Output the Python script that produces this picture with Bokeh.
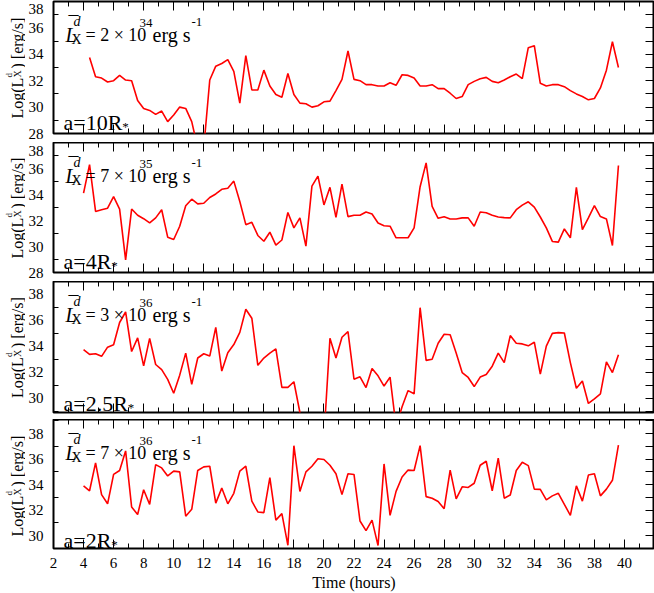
import math
from bokeh.plotting import figure
from bokeh.models import Range1d, LinearAxis, FixedTicker, Label, CustomJSTickFormatter
from bokeh.layouts import column, row
from bokeh.embed import file_html
from bokeh.resources import INLINE

FONT = "Liberation Serif"

# sampling grid (hours): 4.0, 4.4, ..., 39.6
time_h = [round(4 + 0.4 * i, 1) for i in range(90)]

lum_a10 = [float("nan"),
    33.75, 32.3, 32.2, 31.9, 32.0, 32.4, 32.05, 32.0, 30.5, 29.9,
    29.75, 29.45, 29.7, 28.9, 29.4, 30.0, 29.9, 28.9, 26.9, 26.9,
    32.05, 33.1, 33.3, 33.6, 32.7, 30.3, 33.9, 31.3, 31.3, 32.8,
    31.6, 30.95, 30.75, 32.55, 30.95, 30.3, 30.25, 30.0, 30.1, 30.4,
    30.45, 31.25, 32.1, 34.25, 32.1, 32.0, 31.7, 31.7, 31.6, 31.6,
    31.85, 31.65, 32.45, 32.4, 32.2, 31.6, 31.6, 31.7, 31.4, 31.4,
    31.05, 30.65, 30.8, 31.7, 31.95, 32.15, 32.25, 31.95, 31.85, 32.05,
    32.3, 32.5, 32.15, 34.5, 34.65, 31.8, 31.6, 31.7, 31.7, 31.55,
    31.25, 31.0, 30.8, 30.55, 30.65, 31.45, 32.8, 34.95, 33.0]

lum_a4 = [
    34.1, 36.3, 32.7, 32.83, 32.95, 33.84, 32.88, 28.97, 32.88, 32.4,
    32.14, 31.81, 32.2, 32.83, 30.72, 30.54, 31.56, 33.13, 33.64, 33.28,
    33.33, 33.77, 34.04, 34.4, 34.48, 35.03, 33.46, 31.68, 31.86, 30.85,
    30.4, 31.1, 30.11, 30.5, 32.62, 31.43, 32.2, 30.03, 34.65, 35.41,
    33.2, 34.55, 32.24, 34.8, 32.3, 32.4, 32.4, 32.65, 32.5, 31.81,
    31.6, 31.56, 30.67, 30.67, 30.67, 31.43, 34.6, 36.43, 33.08, 32.17,
    32.29, 32.12, 32.12, 32.2, 32.2, 31.56, 32.65, 32.6, 32.4, 32.27,
    32.22, 32.2, 32.83, 33.18, 33.44, 33.03, 32.27, 31.43, 30.39, 30.34,
    31.35, 30.67, 34.55, 31.3, 32.2, 33.15, 32.3, 32.12, 30.08, 36.23]

lum_a25 = [
    33.74, 33.38, 33.43, 33.23, 33.94, 34.12, 35.84, 36.65, 33.6, 34.65,
    32.5, 34.62, 32.6, 32.2, 31.45, 30.38, 31.78, 33.48, 31.07, 33.1,
    33.43, 33.25, 35.46, 32.09, 33.5, 34.14, 35.08, 36.86, 36.17, 32.54,
    33.1, 33.48, 33.81, 30.84, 30.84, 31.27, 28.9, 27.5, 27.5, 27.5,
    27.0, 34.62, 33.1, 34.7, 35.13, 31.47, 31.65, 30.82, 32.29, 31.73,
    30.94, 31.63, 27.8, 29.35, 30.59, 30.34, 36.98, 32.92, 33.0, 34.24,
    34.93, 34.9, 33.48, 31.98, 31.6, 30.9, 31.63, 31.83, 32.47, 33.48,
    32.75, 34.83, 34.24, 34.19, 34.04, 34.32, 31.86, 34.02, 35.0, 35.06,
    35.03, 32.75, 30.77, 31.33, 29.6, 29.95, 30.34, 32.8, 31.98, 33.36]

lum_a2 = [
    33.91, 33.52, 35.7, 33.22, 32.5, 34.8, 35.11, 36.64, 32.25, 31.66,
    33.6, 32.45, 35.57, 35.31, 34.68, 35.06, 35.0, 31.53, 32.07, 35.11,
    35.39, 35.44, 32.55, 33.73, 32.5, 33.32, 35.06, 35.44, 32.71, 31.86,
    31.81, 34.55, 31.22, 31.73, 29.25, 37.05, 33.47, 35.0, 35.44, 36.03,
    35.97, 35.52, 34.85, 33.22, 34.85, 34.8, 31.15, 30.4, 31.22, 29.23,
    35.62, 31.6, 33.47, 34.6, 35.14, 35.11, 37.05, 33.06, 32.94, 32.68,
    32.12, 35.14, 32.88, 33.83, 33.78, 34.11, 35.52, 35.83, 33.52, 36.08,
    32.94, 33.19, 35.11, 35.75, 35.49, 33.65, 33.63, 32.81, 33.12, 33.32,
    32.45, 31.6, 33.91, 32.71, 34.75, 34.85, 33.12, 33.65, 34.34, 37.1]

series = [lum_a10, lum_a4, lum_a25, lum_a2]
y_ranges = [(28, 38), (28, 38), (28.9, 39.0), (29.0, 39.1)]
y_major = [[28, 30, 32, 34, 36, 38], [28, 30, 32, 34, 36, 38],
           [30, 32, 34, 36, 38], [30, 32, 34, 36, 38]]
y_minor = [[29, 31, 33, 35, 37], [29, 31, 33, 35, 37],
           [29, 31, 33, 35, 37, 39], [31, 33, 35, 37, 39]]
coeffs = ["2", "7", "3", "7"]
exponents = ["34", "35", "36", "36"]
sep_labels = ["a=10R", "a=4R", "a=2.5R", "a=2R"]
sep_raise = [11, 11.5, 9, 8.5]
x_major = list(range(2, 41, 2))
x_minor = list(range(3, 42, 2))
x_title = "Time (hours)"

# layout (px): border above frame, frame height, border below frame
borders_top = [1, 0, 0, 0]
frame_h = [132, 130, 131, 132]
borders_bottom = [9, 9, 7, 42]
TOTAL_H = sum(borders_top) + sum(frame_h) + sum(borders_bottom)
TITLE_W = 25
PANEL_W = 654 - TITLE_W
TOP_LABEL_DROP = 8   # px: a label sitting at the very top edge is drawn this far below it

# Liberation Serif advance widths (em) for label positioning
ADV = {"a": .444, "=": .564, "1": .5, "0": .5, ".": .25, "2": .5, "4": .5, "5": .5, "R": .667}

x_range = Range1d(2, 42)

def hide_axis(ax):
    ax.formatter = CustomJSTickFormatter(code="return ''")
    ax.major_label_text_font_size = "0px"
    ax.major_label_standoff = 0
    ax.major_tick_out = 0
    ax.minor_tick_out = 0
    ax.axis_line_color = None
    ax.major_tick_line_color = "black"
    ax.minor_tick_line_color = "black"

def lab(p, text, x, y, dx, dy, size, style="normal", angle=0.0,
        align="left", baseline="alphabetic"):
    p.add_layout(Label(x=x, y=y, x_offset=dx, y_offset=dy, text=text,
                       text_font=FONT, text_font_size=f"{size}px",
                       text_font_style=style, text_color="black",
                       text_align=align, text_baseline=baseline,
                       angle=angle))

# narrow figure holding the rotated y titles (pixel coordinates, y downward)
tf = figure(width=TITLE_W, height=TOTAL_H, x_range=Range1d(0, TITLE_W),
            y_range=Range1d(TOTAL_H, 0), output_backend="svg",
            toolbar_location=None, x_axis_location=None, y_axis_location=None,
            min_border=0)
tf.xgrid.visible = False
tf.ygrid.visible = False
tf.outline_line_color = None
tf.background_fill_color = "white"
tf.border_fill_color = "white"

panels = []
y_cursor = 0
for k in range(4):
    last = (k == 3)
    top = borders_top[k]
    bottom = borders_bottom[k]
    y0, y1 = y_ranges[k]
    p = figure(width=PANEL_W, height=frame_h[k] + top + bottom, x_range=x_range,
               y_range=Range1d(y0, y1), output_backend="svg",
               toolbar_location=None, min_border_left=25, min_border_right=0,
               min_border_top=top, min_border_bottom=bottom)
    p.xgrid.visible = False
    p.ygrid.visible = False
    p.outline_line_color = "black"
    p.outline_line_width = 2
    p.background_fill_color = "white"
    p.border_fill_color = "white"

    p.line(time_h, series[k], line_color="#ff0000", line_width=1.6)

    # bottom axis
    xb = p.xaxis[0]
    xb.ticker = FixedTicker(ticks=x_major, minor_ticks=x_minor)
    xb.major_tick_in = 9
    xb.minor_tick_in = 5
    if last:
        xb.major_tick_out = 0
        xb.minor_tick_out = 0
        xb.axis_line_color = None
        xb.major_label_standoff = 9
        xb.major_label_text_font = FONT
        xb.major_label_text_font_size = "15px"
        xb.major_label_text_color = "black"
        xb.axis_label = x_title
        xb.axis_label_text_font = FONT
        xb.axis_label_text_font_size = "16px"
        xb.axis_label_text_font_style = "normal"
        xb.axis_label_text_color = "black"
        xb.axis_label_standoff = 3
    else:
        hide_axis(xb)

    # top axis
    xt = LinearAxis(ticker=FixedTicker(ticks=x_major, minor_ticks=x_minor))
    hide_axis(xt)
    xt.major_tick_in = 9
    xt.minor_tick_in = 5
    p.add_layout(xt, "above")

    # left axis (labels only at even values; marks only at odd values)
    label_ticks = list(y_major[k])
    overrides = {}
    if label_ticks[-1] == y1:
        moved = round(y1 - TOP_LABEL_DROP * (y1 - y0) / frame_h[k], 3)
        label_ticks[-1] = moved
        overrides[moved] = f"{y1:g}"
    yl = p.yaxis[0]
    yl.ticker = FixedTicker(ticks=label_ticks, minor_ticks=y_minor[k])
    yl.major_label_overrides = overrides
    yl.major_tick_in = 0
    yl.major_tick_out = 0
    yl.minor_tick_in = 5
    yl.minor_tick_out = 0
    yl.axis_line_color = None
    yl.major_label_standoff = 10
    yl.major_label_text_font = FONT
    yl.major_label_text_font_size = "15px"
    yl.major_label_text_color = "black"

    # right axis
    yr = LinearAxis(ticker=FixedTicker(ticks=y_major[k], minor_ticks=y_minor[k]))
    hide_axis(yr)
    yr.major_tick_in = 9
    yr.minor_tick_in = 9
    p.add_layout(yr, "right")

    # mean luminosity annotation
    lab(p, "L", 2, y1, 12, -33, 20, style="italic")
    lab(p, "\u00af", 2, y1, 15, -22, 20)
    lab(p, "d", 2, y1, 20, -20, 14, style="italic")
    lab(p, "X", 2, y1, 18, -38, 14)
    lab(p, "= " + coeffs[k] + " \u00d7 10", 2, y1, 32, -33, 18)
    lab(p, exponents[k], 2, y1, 86, -21, 13)
    lab(p, "erg s", 2, y1, 99, -33, 20)
    lab(p, "-1", 2, y1, 138, -20, 13)

    # separation label a=..R*
    fs = 22
    wpx = sum(ADV.get(c, .5) for c in sep_labels[k]) * fs
    lab(p, sep_labels[k], 2, y0, 10, sep_raise[k], fs)
    lab(p, "*", 2, y0, 10 + wpx, sep_raise[k] - 4, 13)

    # rotated y title for this panel, in the title strip (y grows downward)
    fc = y_cursor + top + frame_h[k] / 2.0
    rot = math.pi / 2
    lab(tf, "Log(L", 17, fc + 51, 0, 0, 16, angle=rot)
    lab(tf, "d", 8, fc + 10, 0, 0, 9, angle=rot)
    lab(tf, "X", 17, fc + 10, 0, 0, 10, angle=rot)
    lab(tf, ") [erg/s]", 17, fc + 1, 0, 0, 16, angle=rot)

    y_cursor += frame_h[k] + top + bottom
    panels.append(p)

layout = row(tf, column(*panels))
open("out.html", "w").write(file_html(layout, INLINE))
